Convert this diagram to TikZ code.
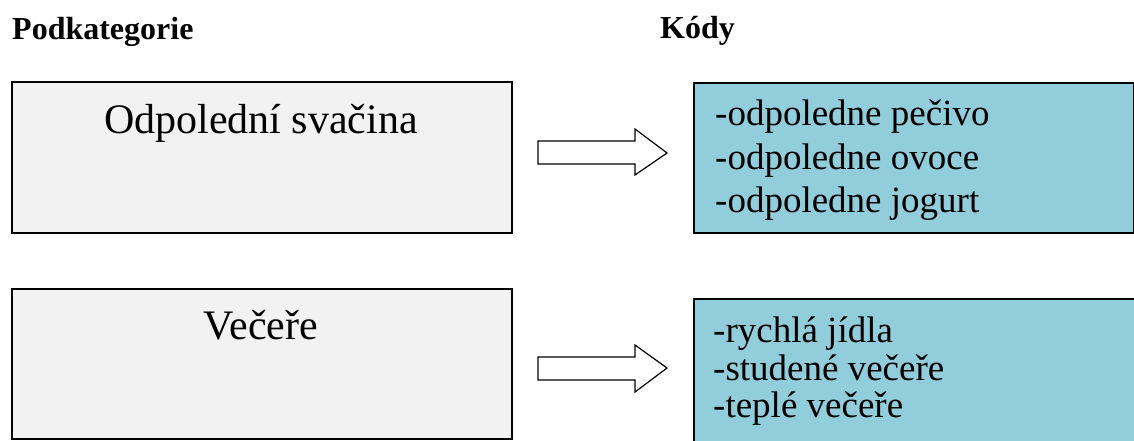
\documentclass[tikz,border=0pt]{standalone}
\usepackage{fontspec}
\setmainfont{Liberation Serif}
\definecolor{catgray}{HTML}{F2F2F2}
\definecolor{codeblue}{HTML}{92CDDC}
\tikzset{
  catbox/.style={draw=black, line width=1.6pt, fill=catgray, inner sep=0pt, anchor=north west},
  codebox/.style={draw=black, line width=1.6pt, fill=codeblue, inner sep=0pt, anchor=north west},
  heading/.style={font=\bfseries\fontsize{32}{38}\selectfont, anchor=base west, inner sep=0pt},
  cattext/.style={font=\fontsize{42}{48}\selectfont, anchor=base, inner sep=0pt},
  codeline/.style={font=\fontsize{37}{43}\selectfont, anchor=base west, inner sep=0pt},
  blockarrow/.style={draw=black, line width=1.2pt, fill=white, line join=miter}
}
\begin{document}
\begin{tikzpicture}[x=1pt, y=-1pt]
  \useasboundingbox (0,0) rectangle (1134,441);
  \clip (0,0) rectangle (1134,441);

  % column headings
  \node[heading] (hcat) at (12,40) {Podkategorie};
  \node[heading] (hcode) at (660,39) {Kódy};

  % first row
  \node[catbox, minimum width=500pt, minimum height=151pt] (cat1) at (11,81) {};
  \node[cattext] (cat1t) at (261,133) {Odpolední svačina};
  \node[codebox, minimum width=440pt, minimum height=150pt] (code1) at (693,82) {};
  \node[codeline] (c11) at (715,125) {-odpoledne pečivo};
  \node[codeline] (c12) at (715,169) {-odpoledne ovoce};
  \node[codeline] (c13) at (715,212) {-odpoledne jogurt};
  \draw[blockarrow] (538,141) -- (635,141) -- (635,129) -- (667,153)
    -- (635,175) -- (635,164) -- (538,164) -- cycle;

  % second row
  \node[catbox, minimum width=500pt, minimum height=150pt] (cat2) at (11,288) {};
  \node[cattext] (cat2t) at (261,339) {Večeře};
  \node[codebox, minimum width=460pt, minimum height=160pt] (code2) at (693,298) {};
  \node[codeline] (c21) at (713,342) {-rychlá jídla};
  \node[codeline] (c22) at (713,380) {-studené večeře};
  \node[codeline] (c23) at (713,417) {-teplé večeře};
  \draw[blockarrow] (538,357) -- (635,357) -- (635,345) -- (667,368)
    -- (635,392) -- (635,380) -- (538,380) -- cycle;
\end{tikzpicture}
\end{document}
